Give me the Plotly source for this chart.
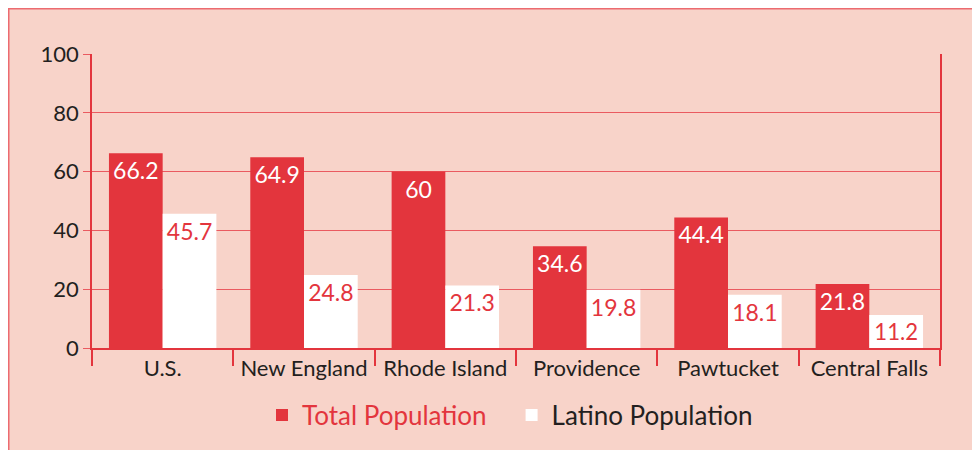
import plotly.graph_objects as go

categories = ["U.S.", "New England", "Rhode Island", "Providence", "Pawtucket", "Central Falls"]
total_population = [66.2, 64.9, 60, 34.6, 44.4, 21.8]
latino_population = [45.7, 24.8, 21.3, 19.8, 18.1, 11.2]
y_ticks = [0, 20, 40, 60, 80, 100]

RED = "#E3353D"
GRID = "#EA5A60"
BG = "#F8D3C9"
DARK = "#231F20"
FONT = "Lato, 'Open Sans', sans-serif"

fig = go.Figure()
fig.add_trace(go.Bar(
    x=categories, y=total_population,
    name="<span style='color:%s'>Total Population</span>   " % RED,
    marker=dict(color=RED, line=dict(width=0)),
    text=[("%g" % v) for v in total_population],
    textposition="inside", insidetextanchor="end",
    textfont=dict(color="white", size=23, family=FONT),
    cliponaxis=False,
))
fig.add_trace(go.Bar(
    x=categories, y=latino_population,
    name="Latino Population",
    marker=dict(color="white", line=dict(width=0)),
    text=[("%g" % v) for v in latino_population],
    textposition="inside", insidetextanchor="end",
    textfont=dict(color=RED, size=23, family=FONT),
    cliponaxis=False,
))

# figure is placed at page offset (8, 8) by the browser body margin
L, T = 84, 46
W, H = 980, 450
R = W - 932
B = H - 340
pw, ph = W - L - R, H - T - B

fig.update_layout(
    width=W, height=H,
    margin=dict(l=L, r=R, t=T, b=B, autoexpand=False),
    paper_bgcolor=BG, plot_bgcolor=BG,
    barmode="group", bargap=0.24, bargroupgap=0,
    font=dict(family=FONT, color=DARK, size=20),
    showlegend=True,
    legend=dict(orientation="h", x=(502 - L) / pw, xanchor="center", y=(340 - 407) / ph, yanchor="middle",
                font=dict(size=26, color=DARK, family=FONT), bgcolor="rgba(0,0,0,0)",
                traceorder="normal"),
    xaxis=dict(
        tickson="boundaries", ticks="outside", ticklen=16, tickcolor=RED, tickwidth=1.5,
        showline=True, linecolor=RED, linewidth=1.5,
        showgrid=False, tickfont=dict(size=22, color=DARK), fixedrange=True,
    ),
    yaxis=dict(
        range=[0, 100], tickvals=y_ticks, ticks="outside", ticklen=7, tickcolor=GRID,
        showline=True, linecolor=RED, linewidth=1.5, mirror=True,
        showgrid=True, gridcolor=GRID, gridwidth=1.2, zeroline=False,
        tickfont=dict(size=22, color=DARK), fixedrange=True,
    ),
    shapes=[dict(
        type="rect", xref="paper", yref="paper",
        x0=(0 - L) / pw, x1=(W - L) / pw,
        y0=-(H - T - ph) / ph, y1=(H - B - 0) / ph,
        line=dict(color="#EC6B70", width=3), fillcolor="rgba(0,0,0,0)", layer="below",
    )],
)

fig.write_html("out.html")
